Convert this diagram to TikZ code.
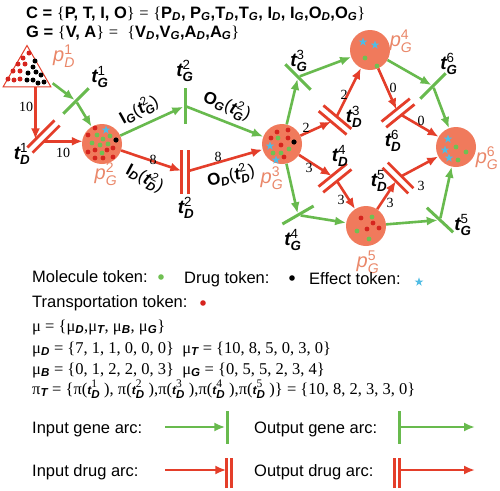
\documentclass[tikz,border=0pt]{standalone}
\usepackage{fontspec}
\usepackage{amsmath}
\setmainfont{Liberation Serif}
\setsansfont{Liberation Sans}
\usetikzlibrary{shapes.geometric,arrows.meta,calc}
\definecolor{gr}{RGB}{104,186,78}
\definecolor{rd}{RGB}{228,62,42}
\definecolor{plc}{RGB}{240,122,92}
\definecolor{pltxt}{RGB}{234,135,105}
\definecolor{tokr}{RGB}{214,36,30}
\definecolor{tokg}{RGB}{112,192,82}
\definecolor{cy}{RGB}{80,188,228}
\newcommand\bsub[2]{\textbf{#1}\textsubscript{\bfseries\itshape #2}}
\newcommand\tlab[2]{\ensuremath{\text{\bfseries\itshape t}_{\text{\bfseries\itshape #1}}^{\text{#2}}}}
\newcommand\plab[2]{\ensuremath{\text{\itshape p}_{\text{\itshape #1}}^{\text{#2}}}}
\newcommand\iolab[3]{\ensuremath{\text{\bfseries #1}_{\text{\bfseries\itshape #2}}\text{(}\text{\bfseries\itshape t}_{\text{\bfseries\itshape #2}}^{\text{#3}}\text{)}}}
\newcommand\musub[1]{μ\textsubscript{\sffamily\bfseries\itshape #1}}
\newcommand\pit[1]{π(\ensuremath{\text{\sffamily\bfseries\itshape\large t}_{\text{\sffamily\bfseries\itshape D}}^{\text{#1}}}\hspace{4pt})}
\tikzset{
  place/.style={circle, fill=plc, minimum size=40pt, inner sep=0pt},
  gtrans/.style={rectangle, fill=gr, minimum width=36pt, minimum height=3pt, inner sep=0pt},
  dtrans/.style={rectangle, minimum width=36pt, minimum height=7pt, inner sep=0pt},
  dbar/.style={draw=rd, line width=2.8pt},
  garc/.style={draw=gr, line width=2.6pt, -{Latex[length=11pt,width=9pt]}},
  darc/.style={draw=rd, line width=2.6pt, -{Latex[length=11pt,width=9pt]}},
  wlab/.style={font=\fontsize{14}{14}\selectfont, inner sep=0pt},
  tl/.style={font=\sffamily\fontsize{19}{19}\selectfont, inner sep=0pt},
  pl/.style={font=\sffamily\fontsize{20}{20}\selectfont, text=pltxt, inner sep=0pt},
  iol/.style={font=\sffamily\fontsize{17}{17}\selectfont, inner sep=0pt},
  txt/.style={font=\sffamily\fontsize{16.5}{16.5}\selectfont, anchor=base west, inner sep=0pt},
  mtxt/.style={font=\fontsize{16.5}{16.5}\selectfont, anchor=base west, inner sep=0pt},
  starpic/.pic={\fill[cy] (270:4.6) \foreach \a in {1,...,4}{ -- (270+\a*144:4.6)} -- cycle;}
}
\begin{document}
\begin{tikzpicture}[x=1pt,y=-1pt]
\fill[white] (0,0) rectangle (500,490);
\useasboundingbox (0,0) rectangle (500,490);

% header
\node[txt] (h1) at (26,18) {\bfseries C = {\rmfamily\mdseries\{}P, T, I, O{\rmfamily\mdseries\}} {\rmfamily\mdseries =} {\rmfamily\mdseries\{}\bsub{P}{D}, \bsub{P}{G},\bsub{T}{D},\bsub{T}{G}, \bsub{I}{D}, \bsub{I}{G},\bsub{O}{D},\bsub{O}{G}{\rmfamily\mdseries\}}};
\node[txt] (h2) at (26,37) {\bfseries G = {\rmfamily\mdseries\{}V, A{\rmfamily\mdseries\}} {\rmfamily\mdseries =}\ \ {\rmfamily\mdseries\{}\bsub{V}{D},\bsub{V}{G},\bsub{A}{D},\bsub{A}{G}{\rmfamily\mdseries\}}};

% places
\node[regular polygon, regular polygon sides=3, minimum size=55pt, draw=rd, line width=1pt, fill=white, inner sep=0pt] (tri) at (27,73) {};
\node[place] (pG2) at (102,144) {};
\node[place] (pG3) at (282,144) {};
\node[place] (pG4) at (370,50) {};
\node[place] (pG5) at (366,226) {};
\node[place] (pG6) at (456,147) {};

% tokens
\foreach \p in {(29,53),(23,58),(18,64),(25,64),(13,71),(20,71),(8,79),(14,80),(20,79)} \fill[tokr] \p circle (2.5);
\foreach \p in {(35,61),(33,67),(28,73),(36,72),(41,75),(27,80),(33,80),(38,83),(44,82)} \fill[black] \p circle (2.5);
% pG2
\foreach \p in {(95,128),(88,135),(88,152),(95,150),(107,150),(113,148),(95,158),(103,158),(113,157)} \fill[tokr] \p circle (2.4);
\foreach \p in {(97,135),(103,139),(110,136),(92,143),(100,145),(108,144),(102,153)} \fill[tokg] \p circle (2.4);
\pic at (106,130) {starpic};
\fill[black] (116,140) circle (2.6);
% pG3
\foreach \p in {(277,132),(288,130),(271,138),(281,145),(288,138),(284,157)} \fill[tokr] \p circle (2.4);
\foreach \p in {(278,138),(289,149),(273,153),(281,153)} \fill[tokg] \p circle (2.4);
\pic at (270,146) {starpic};
\pic at (276,160) {starpic};
\fill[black] (294,142) circle (2.6);
% pG4
\pic at (363,42) {starpic};
\pic at (375,45) {starpic};
\fill[tokg] (365,58) circle (2.4);
\fill[tokg] (377,66) circle (2.4);
% pG5
\foreach \p in {(361,218),(373,223),(367,229),(379,228)} \fill[tokr] \p circle (2.4);
\foreach \p in {(372,217),(357,231),(369,239)} \fill[tokg] \p circle (2.4);
% pG6
\pic at (448,139) {starpic};
\pic at (445,150) {starpic};
\pic at (449,158) {starpic};
\foreach \p in {(456,147),(466,152),(458,160)} \fill[tokg] \p circle (2.4);

% gene transitions
\node[gtrans, rotate=45] (tG1) at (76,101) {};
\node[gtrans, rotate=90] (tG2) at (185,106) {};
\node[gtrans, rotate=-45] (tG3) at (298,77) {};
\node[gtrans, rotate=30] (tG4) at (298,215) {};
\node[gtrans, rotate=-43] (tG5) at (440,220) {};
\node[gtrans, rotate=45] (tG6) at (433,86) {};

% drug transitions
\node[dtrans, rotate=45, minimum width=38pt] (tD1) at (43.5,136.5) {};
\node[dtrans, rotate=90, minimum width=44pt] (tD2) at (185,172) {};
\node[dtrans, rotate=-40] (tD3) at (335,120) {};
\node[dtrans, rotate=39] (tD4) at (335,178) {};
\node[dtrans, rotate=-45] (tD5) at (398,178) {};
\node[dtrans, rotate=39] (tD6) at (398,113) {};
\foreach \n in {tD1,tD2,tD3,tD4,tD5,tD6}{
  \draw[dbar] (\n.north west) -- (\n.north east) (\n.south west) -- (\n.south east);
}

% gene arcs
\coordinate (triG) at ($(tri.corner 3)+(1,-4)$);
\draw[garc] (triG) -- (tG1);
\draw[garc] (tG1) -- (pG2);
\draw[garc] (pG2) -- (tG2);
\draw[garc] (tG2) -- (pG3);
\draw[garc] (pG3) -- (tG3);
\draw[garc] (tG3) -- (pG4);
\draw[garc] (pG4) -- (tG6);
\draw[garc] (tG6) -- (pG6);
\draw[garc] (pG3) -- (tG4);
\draw[garc] (tG4) -- (pG5);
\draw[garc] (pG5) -- (tG5);
\draw[garc] (tG5) -- (pG6);

% drug arcs
\coordinate (tD1in) at ($(tD1.north west)!0.3!(tD1.north east)$);
\coordinate (tD1out) at ($(tD1.south west)!0.42!(tD1.south east)$);
\draw[darc] (tri.south -| tD1in) -- (tD1in);
\draw[darc] (tD1out) -- ($(tD1out -| pG2.west)+(1,0)$);
\draw[darc] (pG2) -- (tD2);
\draw[darc] (tD2) -- (pG3);
\draw[darc] (pG3) -- (tD3);
\draw[darc] (tD3) -- (pG4);
\draw[darc] (pG4) -- (tD6);
\draw[darc] (tD6) -- (pG6);
\draw[darc] (pG3) -- (tD4);
\draw[darc] (tD4) -- (pG5);
\draw[darc] (pG5) -- (tD5);
\draw[darc] (tD5) -- (pG6);

% weights
\node[wlab] (w1) at (26,107) {10};
\node[wlab] (w2) at (63,153) {10};
\node[wlab] (w3) at (153,160) {8};
\node[wlab] (w4) at (218,157) {8};
\node[wlab] (w5) at (306,128) {2};
\node[wlab] (w6) at (344,95) {2};
\node[wlab] (w7) at (393,88) {0};
\node[wlab] (w8) at (421,121) {0};
\node[wlab] (w9) at (309,168) {3};
\node[wlab] (w10) at (341,200) {3};
\node[wlab] (w11) at (390,203) {3};
\node[wlab] (w12) at (421,186) {3};

% arc text labels
\node[iol, rotate=29] (lIG) at (139,110) {\iolab{I}{G}{2}};
\node[iol, rotate=-22] (lOG) at (227,106) {\iolab{O}{G}{2}};
\node[iol, rotate=-28] (lID) at (145,178) {\iolab{I}{D}{2}};
\node[iol, rotate=14] (lOD) at (231,176) {\iolab{O}{D}{2}};

% transition labels
\node[tl] (ltG1) at (100,77) {\tlab{G}{1}};
\node[tl] (ltD1) at (22,154) {\tlab{D}{1}};
\node[tl] (ltG2) at (185,71) {\tlab{G}{2}};
\node[tl] (ltD2) at (186,208) {\tlab{D}{2}};
\node[tl] (ltG3) at (299,61) {\tlab{G}{3}};
\node[tl] (ltD3) at (354,117) {\tlab{D}{3}};
\node[tl] (ltD6) at (393,141) {\tlab{D}{6}};
\node[tl] (ltG6) at (449,64) {\tlab{G}{6}};
\node[tl] (ltD4) at (340,156) {\tlab{D}{4}};
\node[tl] (ltD5) at (379,181) {\tlab{D}{5}};
\node[tl] (ltG4) at (293,240) {\tlab{G}{4}};
\node[tl] (ltG5) at (463,225) {\tlab{G}{5}};

% place labels
\node[pl] (lpD1) at (64,56) {\plab{D}{1}};
\node[pl] (lpG2) at (106,174) {\plab{G}{2}};
\node[pl] (lpG3) at (272,178) {\plab{G}{3}};
\node[pl] (lpG4) at (401,41) {\plab{G}{4}};
\node[pl] (lpG5) at (368,262) {\plab{G}{5}};
\node[pl] (lpG6) at (487,158) {\plab{G}{6}};

% token legend
\node[txt] (mol) at (32,282) {Molecule token:};
\fill[tokg] (161,277) circle (2.8);
\node[txt] (drg) at (184,283) {Drug token:};
\fill[black] (292,278) circle (2.8);
\node[txt] (eff) at (309,284) {Effect token:};
\pic at (419,282) {starpic};
\node[txt] (trn) at (32,307) {Transportation token:};
\fill[tokr] (203,303) circle (2.8);

% markings
\node[mtxt] (m1) at (32,331) {μ = \{\musub{D},\musub{T}, \musub{B}, \musub{G}\}};
\node[mtxt] (m2) at (32,353) {\musub{D} = \{7, 1, 1, 0, 0, 0\}\ \ \musub{T} = \{10, 8, 5, 0, 3, 0\}};
\node[mtxt] (m3) at (32,374) {\musub{B} = \{0, 1, 2, 2, 0, 3\}\ \ \musub{G} = \{0, 5, 5, 2, 3, 4\}};
\node[mtxt] (m4) at (32,394) {π\textsubscript{\sffamily\bfseries\itshape T} = \{\pit{1}, \pit{2},\pit{3},\pit{4},\pit{5}\} = \{10, 8, 2, 3, 3, 0\}};

% arc legend
\node[txt] (lgi) at (32,433) {Input gene arc:};
\node[txt] (lgo) at (254,433) {Output gene arc:};
\node[txt] (ldi) at (32,476) {Input drug arc:};
\node[txt] (ldo) at (254,476) {Output drug arc:};
\node[gtrans, rotate=90, minimum width=33pt] (lg1) at (227,427) {};
\coordinate (lg1s) at (165,427);
\draw[garc] (lg1s) -- (lg1);
\node[gtrans, rotate=90, minimum width=33pt] (lg2) at (399,427) {};
\coordinate (lg2e) at (475,427);
\draw[garc] (lg2) -- (lg2e);
\node[dtrans, rotate=90, minimum width=30pt, minimum height=5pt] (ld1) at (229,473) {};
\coordinate (ld1s) at (165,470);
\draw[dbar] (ld1.north west) -- (ld1.north east) (ld1.south west) -- (ld1.south east);
\draw[darc] (ld1s) -- (ld1s -| ld1.north);
\node[dtrans, rotate=90, minimum width=30pt, minimum height=5pt] (ld2) at (397,473) {};
\coordinate (ld2e) at (475,470);
\draw[dbar] (ld2.north west) -- (ld2.north east) (ld2.south west) -- (ld2.south east);
\draw[darc] (ld2e -| ld2.south) -- (ld2e);
\end{tikzpicture}
\end{document}
